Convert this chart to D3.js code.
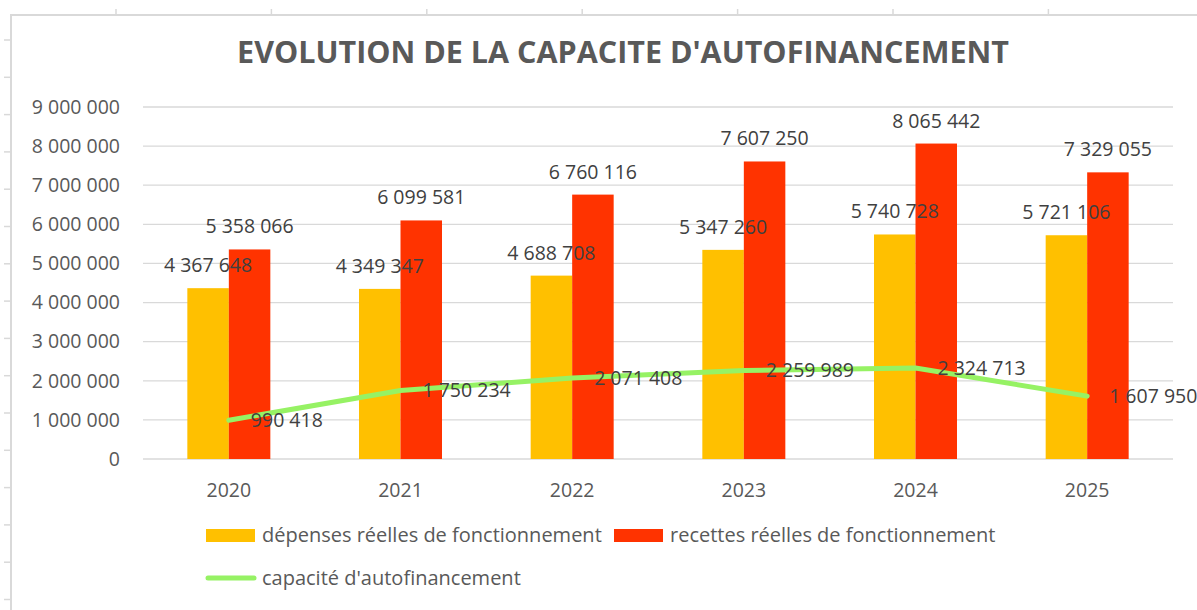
<!DOCTYPE html>
<html>
<head>
<meta charset="utf-8">
<script src="https://cdn.jsdelivr.net/npm/d3@7"></script>
<style>
  body { margin: 0; background: #fff; }
  svg { display: block; font-family: "Open Sans", sans-serif; }
</style>
</head>
<body>
<div id="graph"></div>
<script>
var years = ['2020', '2021', '2022', '2023', '2024', '2025']
var depenses = [4367648, 4349347, 4688708, 5347260, 5740728, 5721106]
var recettes = [5358066, 6099581, 6760116, 7607250, 8065442, 7329055]
var caf = [990418, 1750234, 2071408, 2259989, 2324713, 1607950]

var seriesNames = ['dépenses réelles de fonctionnement', 'recettes réelles de fonctionnement', "capacité d'autofinancement"]
var title = "EVOLUTION DE LA CAPACITE D'AUTOFINANCEMENT"

var width = 1197, height = 610
var colors = {dep: '#ffc000', rec: '#ff3300', caf: '#96f264'}
var grid = '#d9d9d9'

var fr = d3.formatLocale({decimal: ',', thousands: ' ', grouping: [3], currency: ['', ' €']})
var fmt = fr.format(',')

var svg = d3.select('#graph').append('svg')
  .attr('width', width).attr('height', height)

// spreadsheet behind the chart: cell ticks + chart border
var bg = svg.append('g').attr('stroke', grid).attr('stroke-width', 1.5)
d3.range(116, width, 155.4).forEach(function(px){
  bg.append('line').attr('x1', px).attr('x2', px).attr('y1', 9).attr('y2', 15)
})
d3.range(40, height, 37.3).forEach(function(py){
  bg.append('line').attr('x1', 4).attr('x2', 11).attr('y1', py).attr('y2', py)
})
bg.append('path').attr('fill', 'none').attr('stroke-width', 2)
  .attr('d', 'M11,' + height + 'V15H' + width)

// scales
var x = d3.scaleBand().domain(years).range([143, 1173])
var y = d3.scaleLinear().domain([0, 9000000]).range([459, 107])
var inner = d3.scaleBand().domain(['dep', 'rec']).range([-41.5, 41.5])
var cx = function(d){ return x(d) + x.bandwidth() / 2 }

// title
svg.append('text')
  .attr('x', 623).attr('y', 63)
  .attr('text-anchor', 'middle')
  .attr('font-weight', 700).attr('font-size', 30.5)
  .attr('fill', '#595959')
  .text(title)

// y gridlines + ticks
var yAxis = svg.append('g')
y.ticks(10).forEach(function(t){
  yAxis.append('line')
    .attr('x1', 143).attr('x2', 1173)
    .attr('y1', y(t)).attr('y2', y(t))
    .attr('stroke', grid).attr('stroke-width', 1.3)
  yAxis.append('text')
    .attr('x', 120).attr('y', y(t)).attr('dy', '0.35em')
    .attr('text-anchor', 'end').attr('font-size', 19.5)
    .attr('fill', '#595959')
    .text(fmt(t))
})

// x labels
svg.append('g').selectAll('text').data(years).join('text')
  .attr('x', cx).attr('y', 497)
  .attr('text-anchor', 'middle').attr('font-size', 19.5)
  .attr('fill', '#595959')
  .text(function(d){ return d })

// bars
var barData = []
years.forEach(function(yr, i){
  barData.push({year: yr, key: 'dep', v: depenses[i]})
  barData.push({year: yr, key: 'rec', v: recettes[i]})
})

svg.append('g').selectAll('rect').data(barData).join('rect')
  .attr('x', function(d){ return cx(d.year) + inner(d.key) })
  .attr('width', inner.bandwidth())
  .attr('y', function(d){ return y(d.v) })
  .attr('height', function(d){ return y(0) - y(d.v) })
  .attr('fill', function(d){ return colors[d.key] })

// line
var lineData = years.map(function(yr, i){ return {year: yr, v: caf[i]} })
svg.append('path').datum(lineData)
  .attr('fill', 'none').attr('stroke', colors.caf)
  .attr('stroke-width', 5).attr('stroke-linecap', 'round').attr('stroke-linejoin', 'round')
  .attr('d', d3.line()
    .x(function(d){ return cx(d.year) })
    .y(function(d){ return y(d.v) }))

// bar labels
svg.append('g').selectAll('text').data(barData).join('text')
  .attr('x', function(d){ return cx(d.year) + inner(d.key) + inner.bandwidth() / 2 })
  .attr('y', function(d){ return y(d.v) - 16 })
  .attr('text-anchor', 'middle').attr('font-size', 19.5)
  .attr('fill', '#404040')
  .text(function(d){ return fmt(d.v) })

// line labels
svg.append('g').selectAll('text').data(lineData).join('text')
  .attr('x', function(d){ return cx(d.year) + 22 })
  .attr('y', function(d){ return y(d.v) }).attr('dy', '0.35em')
  .attr('font-size', 19.5)
  .attr('fill', '#404040')
  .text(function(d){ return fmt(d.v) })

// legend
var leg = svg.append('g').attr('font-size', 20).attr('fill', '#595959')
var legItems = [
  {name: seriesNames[0], key: 'dep', x: 206, y: 535, type: 'rect'},
  {name: seriesNames[1], key: 'rec', x: 614, y: 535, type: 'rect'},
  {name: seriesNames[2], key: 'caf', x: 206, y: 578, type: 'line'}
]
legItems.forEach(function(d){
  if (d.type == 'rect') {
    leg.append('rect').attr('x', d.x).attr('y', d.y - 6)
      .attr('width', 49).attr('height', 13).attr('fill', colors[d.key])
  } else {
    leg.append('line').attr('x1', d.x + 2).attr('x2', d.x + 48)
      .attr('y1', d.y).attr('y2', d.y)
      .attr('stroke', colors[d.key]).attr('stroke-width', 5).attr('stroke-linecap', 'round')
  }
  leg.append('text').attr('x', d.x + 56).attr('y', d.y).attr('dy', '0.35em')
    .text(d.name)
})
</script>
</body>
</html>
